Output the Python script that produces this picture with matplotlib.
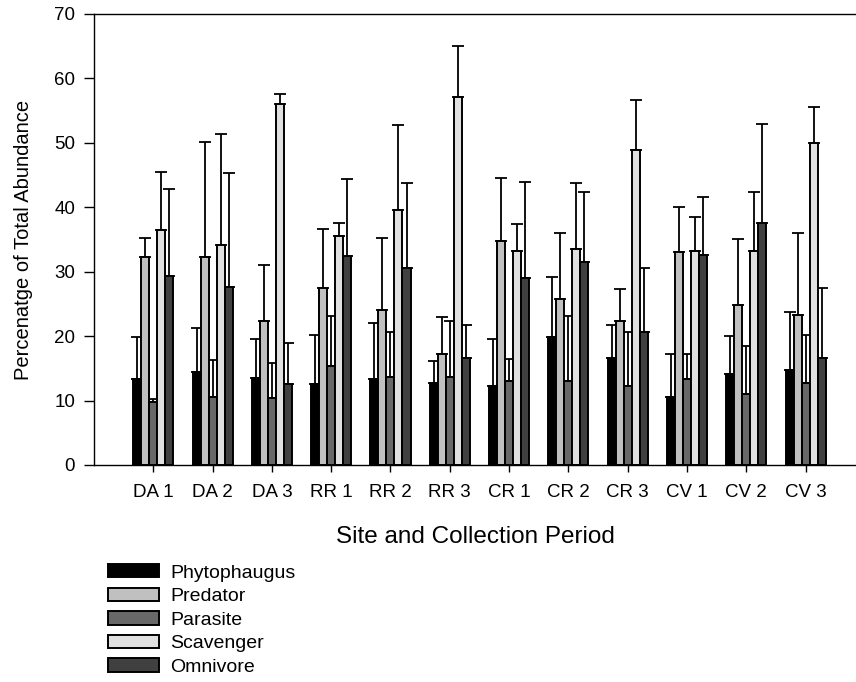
import numpy as np
import matplotlib
matplotlib.use("Agg")
import matplotlib.pyplot as plt

plt.rcParams['font.family'] = ['Liberation Sans', 'DejaVu Sans']

sites = ["DA 1", "DA 2", "DA 3", "RR 1", "RR 2", "RR 3",
         "CR 1", "CR 2", "CR 3", "CV 1", "CV 2", "CV 3"]
guilds = ["Phytophaugus", "Predator", "Parasite", "Scavenger", "Omnivore"]
colors = ["#000000", "#c0c0c0", "#686868", "#e0e0e0", "#404040"]

# mean percentage of total abundance
phytophaugus = [13.4, 14.4, 13.5, 12.6, 13.3, 12.8, 12.3, 19.8, 16.6, 10.6, 14.1, 14.7]
predator     = [32.3, 32.3, 22.4, 27.4, 24.0, 17.2, 34.7, 25.7, 22.4, 33.0, 24.9, 23.3]
parasite     = [9.8, 10.5, 10.4, 15.4, 13.6, 13.7, 13.1, 13.0, 12.3, 13.3, 11.0, 12.7]
scavenger    = [36.5, 34.2, 56.1, 35.5, 39.5, 57.1, 33.2, 33.6, 48.9, 33.2, 33.2, 49.9]
omnivore     = [29.4, 27.6, 12.5, 32.5, 30.5, 16.6, 29.0, 31.5, 20.6, 32.6, 37.6, 16.6]

# upper error (standard error)
phytophaugus_err = [6.5, 6.8, 6.0, 7.5, 8.8, 3.4, 7.3, 9.3, 5.1, 6.6, 5.9, 9.0]
predator_err     = [2.9, 17.8, 8.7, 9.3, 11.3, 5.7, 9.8, 10.3, 4.9, 7.1, 10.1, 12.7]
parasite_err     = [0.4, 5.8, 5.4, 7.7, 7.0, 8.6, 3.4, 10.2, 8.3, 4.0, 7.4, 7.4]
scavenger_err    = [8.9, 17.1, 1.5, 2.1, 13.3, 8.0, 4.2, 10.1, 7.7, 5.3, 9.1, 5.6]
omnivore_err     = [13.4, 17.7, 6.5, 11.9, 13.2, 5.2, 14.9, 10.9, 9.9, 9.0, 15.4, 10.8]

means = [phytophaugus, predator, parasite, scavenger, omnivore]
errs = [phytophaugus_err, predator_err, parasite_err, scavenger_err, omnivore_err]

fig = plt.figure(figsize=(8.56, 6.82), dpi=100)
ax = fig.add_axes([0.1098, 0.3182, 0.8902, 0.6613])

x = np.arange(len(sites))
width = 0.135
for i, (m, e, c, name) in enumerate(zip(means, errs, colors, guilds)):
    pos = x + (i - 2) * width
    ax.bar(pos, m, width=width, color=c, edgecolor="black", linewidth=1.4,
           label=name, zorder=2)
    ax.errorbar(pos, m, yerr=[np.zeros(len(m)), e], fmt="none",
                ecolor="black", elinewidth=1.3, capsize=4.5, capthick=1.3,
                zorder=1)

ax.set_xlim(-1, 11.85)
ax.set_ylim(0, 70)
ax.set_yticks(np.arange(0, 71, 10))
ax.set_xticks(x)
ax.set_xticklabels(sites)
ax.tick_params(axis="both", direction="out", labelsize=13.5, width=1.0)
ax.tick_params(axis="x", length=5, pad=8.5)
ax.tick_params(axis="y", length=7, pad=6.5)
ax.spines["right"].set_visible(False)
for s in ["left", "top", "bottom"]:
    ax.spines[s].set_linewidth(1.0)

ax.set_xlabel("Site and Collection Period", fontsize=17.5, labelpad=18)
ax.set_ylabel("Percenatge of Total Abundance", fontsize=14.5, labelpad=15)

fig.legend(loc="upper left", bbox_to_anchor=(0.126, 0.173), frameon=False,
           fontsize=14, handlelength=2.63, handleheight=0.69,
           labelspacing=0.31, handletextpad=0.57, borderaxespad=0,
           borderpad=0)

fig.savefig("out.png", dpi=100)
